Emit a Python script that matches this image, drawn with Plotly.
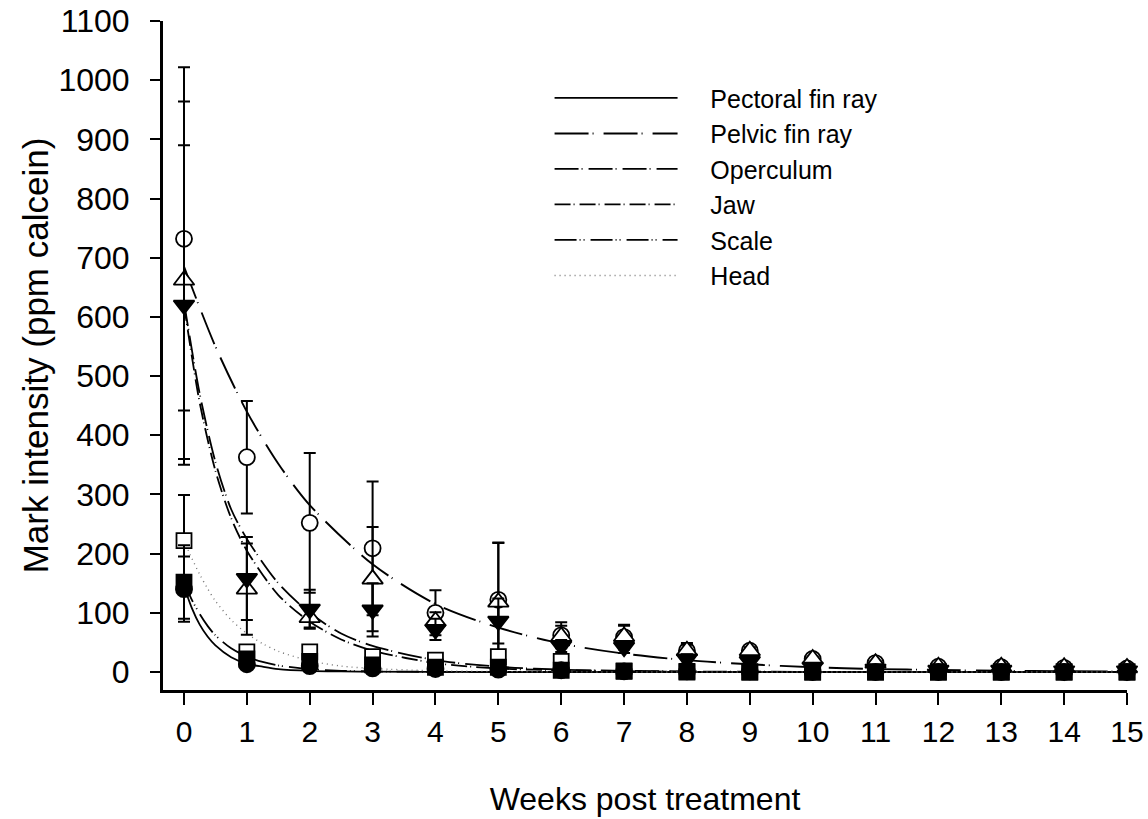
import plotly.graph_objects as go

# ---------------- data ----------------
weeks = list(range(16))

pectoral = [140, 13, 10, 6, 5, 4, 3, 1, 1, 1, 0, 0, 0, 0, 0, 0]
pectoral_err = [55, 4, 3, 2, 2, 2, 1, 1, 1, 1, 1, 1, 1, 1, 1, 1]

pelvic = [732, 363, 252, 209, 100, 122, 62, 59, 36, 36, 22, 15, 9, 8, 7, 6]
pelvic_err = [290, 95, 118, 113, 38, 97, 22, 21, 13, 6, 5, 3, 2, 2, 2, 2]

operculum = [620, 158, 106, 105, 72, 86, 44, 42, 22, 18, 8, 5, 3, 3, 2, 2]
operculum_err = [270, 70, 33, 45, 18, 38, 10, 10, 8, 6, 3, 2, 1, 1, 1, 1]

jaw = [662, 140, 92, 157, 86, 118, 60, 60, 36, 36, 22, 15, 9, 9, 8, 7]
jaw_err = [302, 77, 17, 88, 15, 100, 18, 18, 10, 6, 4, 3, 2, 2, 2, 2]

scale = [152, 22, 18, 12, 8, 8, 3, 1, 1, 0, 0, 0, 0, 0, 0, 0]
scale_err = [62, 5, 4, 3, 2, 3, 1, 1, 1, 1, 1, 1, 1, 1, 1, 1]

head = [222, 34, 34, 26, 20, 26, 18, 2, 0, 0, 0, 0, 0, 0, 0, 0]
head_err = [77, 10, 8, 6, 4, 8, 6, 2, 1, 1, 1, 1, 1, 1, 1, 1]

# fitted curves
fast_x = [0, 0.125, 0.25, 0.375, 0.5, 0.75, 1, 1.25, 1.5, 2, 2.5, 3, 4, 6, 10, 15]
pectoral_fit = [145, 108, 80, 60, 45, 25, 14, 9, 5, 2, 1, 0.5, 0.2, 0, 0, 0]
scale_fit = [152, 122, 98, 78, 62, 40, 26, 17, 11, 5, 2, 1, 0.3, 0, 0, 0]
head_fit = [222, 192, 165, 141, 120, 88, 65, 48, 35, 19, 10, 6, 2, 0.3, 0, 0]

mid_x = [0, 0.25, 0.5, 0.75, 1, 1.5, 2, 2.5, 3, 4, 5, 6, 8, 10, 15]
operculum_fit = [625, 470, 355, 275, 225, 150, 100, 65, 44, 20, 9, 4, 1, 0.3, 0]
jaw_fit = [620, 455, 340, 260, 205, 130, 85, 55, 36, 15, 6, 3, 0.5, 0, 0]

slow_x = [0, 0.5, 1, 1.5, 2, 3, 4, 5, 6, 7, 8, 9, 10, 11, 12, 13, 14, 15]
pelvic_fit = [685, 550, 440, 352, 282, 182, 115, 75, 48, 31, 20, 13, 8, 5, 3.5, 2, 1.5, 1]

names = ["Pectoral fin ray", "Pelvic fin ray", "Operculum", "Jaw", "Scale", "Head"]

# ---------------- figure ----------------
fig = go.Figure()

pad = "\u00a0" * 4
curve_specs = [
    (names[0], fast_x, pectoral_fit, "solid", "black", 1.8),
    (names[1], slow_x, pelvic_fit, "34px,4px,1px,10px", "black", 1.9),
    (names[2], mid_x, operculum_fit, "24px,3px,1px,6px", "black", 1.8),
    (names[3], mid_x, jaw_fit, "16px,3px,1px,5px", "black", 1.8),
    (names[4], fast_x, scale_fit, "22px,3px,1px,3px,1px,6px", "black", 1.8),
    (names[5], fast_x, head_fit, "1px,4px", "#777777", 1.4),
]
for nm, xs, ys, dash, col, w in curve_specs:
    fig.add_trace(go.Scatter(
        x=xs, y=ys, mode="lines", name=pad + nm,
        line=dict(color=col, width=w, dash=dash, shape="spline", smoothing=0.8),
        cliponaxis=False, hoverinfo="skip"))

def err(arr):
    return dict(type="data", array=arr, color="black", thickness=2, width=6)

marker_specs = [
    (pelvic, pelvic_err, "circle", "white", 16),
    (jaw, jaw_err, "triangle-up", "white", 18),
    (operculum, operculum_err, "triangle-down", "black", 18),
    (head, head_err, "square", "white", 15),
    (scale, scale_err, "square", "black", 15),
    (pectoral, pectoral_err, "circle", "black", 16),
]
for ys, es, sym, fill, sz in marker_specs:
    fig.add_trace(go.Scatter(
        x=weeks, y=ys, mode="markers", showlegend=False,
        error_y=err(es),
        marker=dict(symbol=sym, size=sz, color=fill,
                    line=dict(color="black", width=1.8)),
        cliponaxis=False))

fig.update_layout(
    width=1148, height=819,
    margin=dict(l=163, r=21, t=21, b=129, autoexpand=False),
    plot_bgcolor="white", paper_bgcolor="white",
    font=dict(family="Liberation Sans, Arial, sans-serif", size=30, color="black"),
    legend=dict(x=0.401, y=0.919, xanchor="left", yanchor="top",
                bgcolor="rgba(0,0,0,0)", font=dict(size=25),
                itemwidth=123, tracegroupgap=0),
    xaxis=dict(range=[-0.334, 15], tickvals=weeks, ticks="outside",
               ticklen=12, tickwidth=2, tickcolor="black",
               showline=True, linewidth=3, linecolor="black",
               showgrid=False, zeroline=False, automargin=False,
               ticklabelstandoff=1, ticklabeloverflow="allow",
               title=dict(text="Weeks post treatment", standoff=41,
                          font=dict(size=32))),
    yaxis=dict(range=[-30.4, 1100], dtick=100, tick0=0, ticks="outside",
               ticklen=10, tickwidth=2, tickcolor="black",
               showline=True, linewidth=3, linecolor="black",
               showgrid=False, zeroline=False, automargin=False,
               ticklabelstandoff=14, ticklabeloverflow="allow",
               tickfont=dict(size=32),
               title=dict(text="Mark intensity (ppm calcein)", standoff=0,
                          font=dict(size=35))),
)

# remove the default 8px page margin so the figure fills the window exactly
fig.write_html(
    "out.html",
    config={"displayModeBar": False},
    post_script="document.body.style.margin='0px';document.body.style.overflow='hidden';",
)
